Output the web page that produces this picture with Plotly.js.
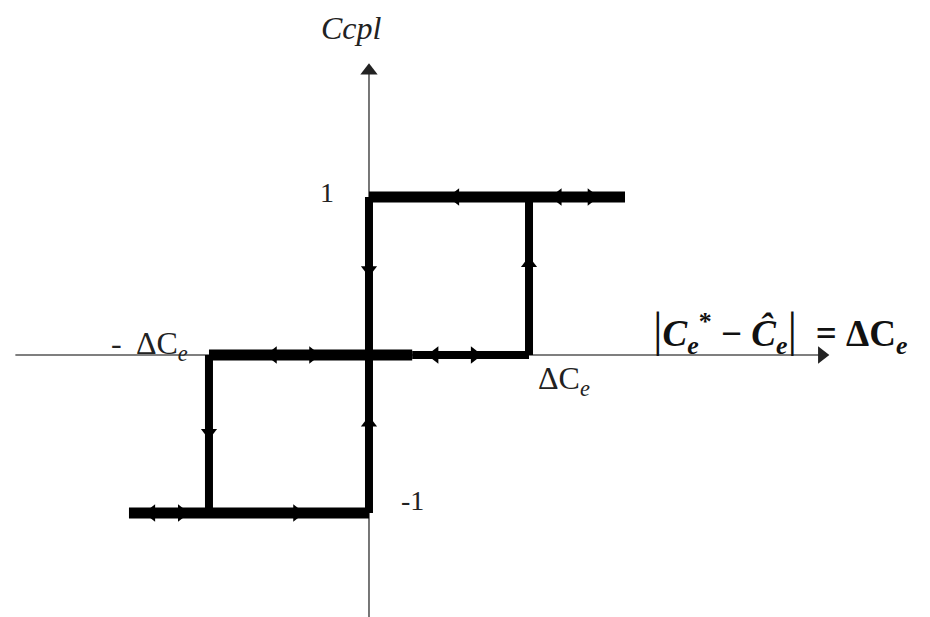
<!DOCTYPE html>
<html>
<head>
<meta charset="utf-8">
<script src="https://cdn.plot.ly/plotly-3.0.1.min.js"></script>
<style>
  html, body { margin: 0; padding: 0; background: #fff; }
  #plot { width: 930px; height: 617px; }
</style>
</head>
<body>
<div id="plot"></div>
<script>
// Hysteresis relay of the coupling command Ccpl versus the error |Ce* - Ĉe|.
// Units: x in multiples of ΔCe, y is the command level (-1, 0, 1).

// Thick horizontal branches
const upperX = [0, 1.6];        const upperY = [1, 1];
const lowerX = [-1.5, 0];       const lowerY = [-1, -1];
const midLeftX = [-1, 0.27];    const midLeftY = [0, 0];
const midRightX = [0.27, 1];    const midRightY = [0, 0];

// Vertical switching branches
const switchX = [[0, 0], [1, 1], [-1, -1]];
const switchY = [[-1, 1], [1, 0], [0, -1]];

// Direction markers along the loop
const arrowLeftX  = [0.54, 1.18, 0.41, -0.6, -1.36];
const arrowLeftY  = [1, 1, 0, 0, -1];
const arrowRightX = [1.39, 0.66, -0.35, -1.17, -0.45];
const arrowRightY = [1, 0, 0, -1, -1];
const arrowUpX = [1, 0];        const arrowUpY = [0.58, -0.43];
const arrowDownX = [0, -1];     const arrowDownY = [0.54, -0.49];

// Axis extents
const xAxisSpan = [-2.21, 2.83];
const yAxisSpan = [-1.66, 1.8];

const black = '#000';
const axisColor = '#555';
const traces = [];

function seg(x, y, w, c) {
  traces.push({x: x, y: y, mode: 'lines', type: 'scatter', hoverinfo: 'skip',
    line: {color: c || black, width: w}, showlegend: false});
}
function markers(x, y, sym, size, c) {
  traces.push({x: x, y: y, mode: 'markers', type: 'scatter', hoverinfo: 'skip',
    marker: {symbol: sym, size: size, color: c || black, line: {width: 0}}, showlegend: false});
}

// coordinate axes with arrowheads
seg(xAxisSpan, [0, 0], 1.6, axisColor);
seg([0, 0], yAxisSpan, 1.6, axisColor);
markers([xAxisSpan[1]], [0], 'triangle-right', 15, '#222');
markers([0], [yAxisSpan[1]], 'triangle-up', 15, '#222');

// loop
seg(upperX, upperY, 11);
seg(lowerX, lowerY, 11);
seg(midLeftX, midLeftY, 11);
seg(midRightX, midRightY, 8);
switchX.forEach((sx, i) => seg(sx, switchY[i], 8));

markers(arrowLeftX, arrowLeftY, 'triangle-left', 15);
markers(arrowRightX, arrowRightY, 'triangle-right', 15);
markers(arrowUpX, arrowUpY, 'triangle-up', 14);
markers(arrowDownX, arrowDownY, 'triangle-down', 14);

const serif = 'Liberation Serif, Times New Roman, serif';
const txt = '#222';

const layout = {
  width: 930, height: 617,
  margin: {l: 0, r: 0, t: 0, b: 0},
  paper_bgcolor: '#fff', plot_bgcolor: '#fff',
  xaxis: {range: [-2.306, 3.506], visible: false, fixedrange: true},
  yaxis: {range: [-1.658, 2.247], visible: false, fixedrange: true},
  annotations: [
    {x: -0.11, y: 2.07, xref: 'x', yref: 'y', showarrow: false,
     text: '<i>Ccpl</i>', font: {family: serif, size: 32, color: txt}},
    {x: -0.26, y: 1.03, xref: 'x', yref: 'y', showarrow: false,
     text: '1', font: {family: serif, size: 28, color: txt}},
    {x: 0.27, y: -0.92, xref: 'x', yref: 'y', showarrow: false,
     text: '-1', font: {family: serif, size: 28, color: txt}},
    {x: -1.37, y: 0.06, xref: 'x', yref: 'y', showarrow: false,
     text: '-  ΔC<sub><i>e</i></sub>', font: {family: serif, size: 32, color: txt}},
    {x: 1.22, y: -0.16, xref: 'x', yref: 'y', showarrow: false,
     text: 'ΔC<sub><i>e</i></sub>', font: {family: serif, size: 32, color: txt}},
    {x: 2.57, y: 0.15, xref: 'x', yref: 'y', showarrow: false,
     text: '<span style="font-size:48px">|</span><b><i>C<sub>e</sub></i><sup>*</sup> − <i>Ĉ<sub>e</sub></i></b><span style="font-size:48px">|</span>  <b>= ΔC<sub><i>e</i></sub></b>',
     font: {family: serif, size: 37, color: '#111'}}
  ]
};

Plotly.newPlot('plot', traces, layout, {staticPlot: true, displayModeBar: false});
</script>
</body>
</html>
